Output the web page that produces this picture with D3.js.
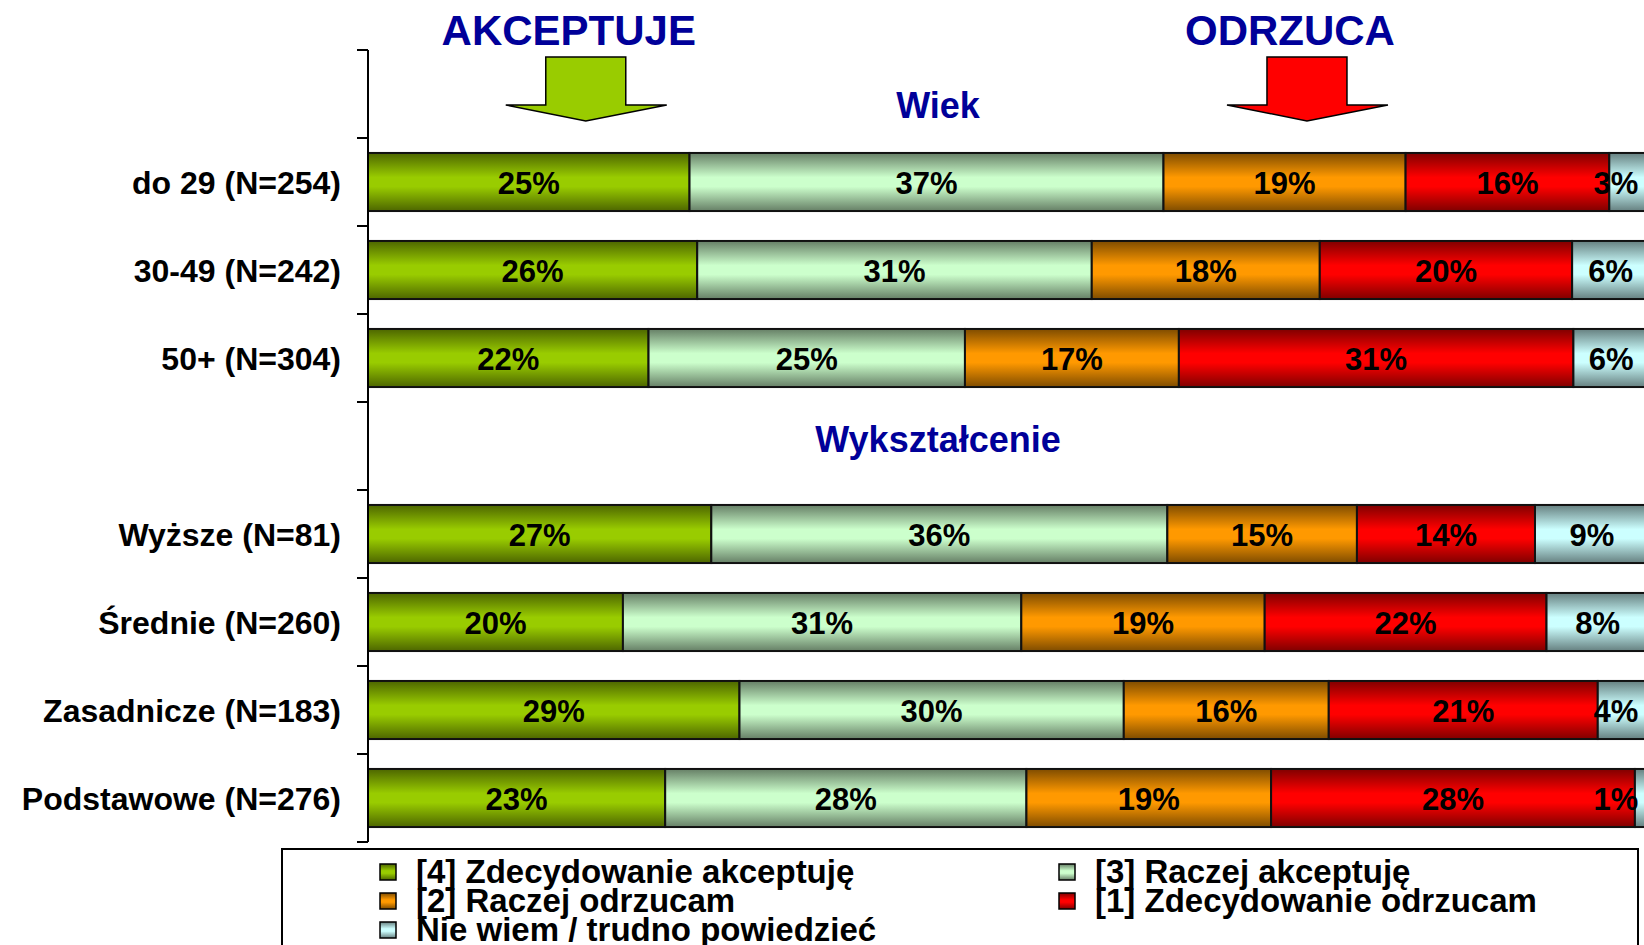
<!DOCTYPE html>
<html>
<head>
<meta charset="utf-8">
<script src="https://cdn.jsdelivr.net/npm/d3@7"></script>
<style>
  body { margin: 0; background: #fff; }
  svg { display: block; font-family: "Liberation Sans", Arial, sans-serif; font-weight: bold; }
</style>
</head>
<body>
<div id="chart"></div>
<script>
// rows of the chart (header slots hold the section titles)
const rowSlots = ["Wiek", "do 29 (N=254)", "30-49 (N=242)", "50+ (N=304)",
  "Wykształcenie", "Wyższe (N=81)", "Średnie (N=260)", "Zasadnicze (N=183)", "Podstawowe (N=276)"];
const headers = ["Wiek", "Wykształcenie"];
const categories = ["do 29 (N=254)", "30-49 (N=242)", "50+ (N=304)",
  "Wyższe (N=81)", "Średnie (N=260)", "Zasadnicze (N=183)", "Podstawowe (N=276)"];

// answer shares in %, one array per answer
const zdecAkcept = [25.1, 25.7, 21.9, 26.8, 19.9, 29.0, 23.2];
const raczejAkcept = [37.0, 30.8, 24.7, 35.6, 31.1, 30.0, 28.2];
const raczejOdrz = [18.9, 17.8, 16.7, 14.8, 19.0, 16.0, 19.1];
const zdecOdrz = [15.9, 19.7, 30.8, 13.9, 22.0, 21.0, 28.4];
const nieWiem = [3.1, 6.0, 5.9, 8.9, 8.0, 4.0, 1.1];

const seriesNames = ["[4] Zdecydowanie akceptuję", "[3] Raczej akceptuję",
  "[2] Raczej odrzucam", "[1] Zdecydowanie odrzucam", "Nie wiem / trudno powiedzieć"];
const seriesValues = [zdecAkcept, raczejAkcept, raczejOdrz, zdecOdrz, nieWiem];
const brightColors = ["#99cc00", "#ccffcc", "#ff9900", "#ff0000", "#ccffff"];
const darkColors = ["#4d6600", "#667f66", "#7f4c00", "#800000", "#668080"];

const W = 1644, H = 945;
const svg = d3.select("#chart").append("svg").attr("width", W).attr("height", H);

const x = d3.scaleLinear().domain([0, 100]).range([368, 1649]);
const y = d3.scaleBand().domain(rowSlots).range([50, 842]).paddingInner(0.34).paddingOuter(0.17);

// vertical gradients like the original bars
const defs = svg.append("defs");
brightColors.forEach((c, i) => {
  const g = defs.append("linearGradient").attr("id", "grad" + i)
    .attr("x1", 0).attr("y1", 0).attr("x2", 0).attr("y2", 1);
  g.append("stop").attr("offset", "0%").attr("stop-color", darkColors[i]);
  g.append("stop").attr("offset", "42%").attr("stop-color", c);
  g.append("stop").attr("offset", "58%").attr("stop-color", c);
  g.append("stop").attr("offset", "100%").attr("stop-color", darkColors[i]);
});

// stack
const table = categories.map((c, r) => {
  const o = { cat: c };
  seriesValues.forEach((arr, s) => o["s" + s] = arr[r]);
  return o;
});
const keys = seriesValues.map((d, i) => "s" + i);
const stacked = d3.stack().keys(keys)(table);

const layers = svg.append("g").selectAll("g").data(stacked).enter().append("g")
  .attr("fill", (d, i) => "url(#grad" + i + ")");

layers.selectAll("rect").data(d => d).enter().append("rect")
  .attr("x", d => x(d[0]))
  .attr("y", d => y(d.data.cat))
  .attr("width", d => x(d[1]) - x(d[0]))
  .attr("height", y.bandwidth())
  .attr("stroke", "#111")
  .attr("stroke-width", 2);

// value labels (kept inside the visible area on the right)
layers.selectAll("text").data(d => d).enter().append("text")
  .attr("x", d => Math.min((x(d[0]) + x(d[1])) / 2, 1616))
  .attr("y", d => y(d.data.cat) + y.bandwidth() / 2 + 12)
  .attr("text-anchor", "middle")
  .attr("font-size", 31)
  .attr("fill", "#000")
  .text(d => Math.round(d[1] - d[0]) + "%");

// category axis
const axis = svg.append("g").attr("transform", "translate(368,0)");
axis.append("line").attr("x1", 0).attr("x2", 0).attr("y1", 50).attr("y2", 842)
  .attr("stroke", "#000").attr("stroke-width", 2);
const tickYs = rowSlots.map(r => y(r) - y.step() * y.paddingInner() / 2).concat([842]);
axis.selectAll("line.tick").data(tickYs).enter().append("line").attr("class", "tick")
  .attr("x1", -11).attr("x2", 0).attr("y1", d => d).attr("y2", d => d)
  .attr("stroke", "#000").attr("stroke-width", 2);
axis.selectAll("text").data(categories).enter().append("text")
  .attr("x", -27)
  .attr("y", d => y(d) + y.bandwidth() / 2 + 12)
  .attr("text-anchor", "end")
  .attr("font-size", 32)
  .attr("fill", "#000")
  .text(d => d);

// section headers
svg.selectAll("text.header").data(headers).enter().append("text").attr("class", "header")
  .attr("x", 938)
  .attr("y", (d, i) => i === 0 ? 118 : 452)
  .attr("text-anchor", "middle")
  .attr("font-size", 36)
  .attr("fill", "#000099")
  .text(d => d);

// top annotations with arrows
const notes = [
  { text: "AKCEPTUJE", at: 17.0, color: "#99cc00" },
  { text: "ODRZUCA", at: 73.3, color: "#ff0000" }
];
notes.forEach(n => {
  const cx = x(n.at);
  svg.append("text").attr("x", cx - 17)
    .attr("y", 45).attr("text-anchor", "middle")
    .attr("font-size", 42).attr("fill", "#000099").text(n.text);
  const pts = [[cx - 40, 57], [cx + 40, 57], [cx + 40, 105], [cx + 81, 105],
    [cx, 121], [cx - 80, 105], [cx - 40, 105]];
  svg.append("polygon").attr("points", pts.map(p => p.join(",")).join(" "))
    .attr("fill", n.color).attr("stroke", "#000").attr("stroke-width", 1.5);
});

// legend
svg.append("rect").attr("x", 282).attr("y", 849).attr("width", 1356).attr("height", 120)
  .attr("fill", "#fff").attr("stroke", "#000").attr("stroke-width", 2);
const leg = svg.append("g").selectAll("g").data(seriesNames).enter().append("g")
  .attr("transform", (d, i) => `translate(${i % 2 === 0 ? 380 : 1059},${872 + Math.floor(i / 2) * 29})`);
leg.append("rect").attr("x", 0).attr("y", -8).attr("width", 16).attr("height", 16)
  .attr("fill", (d, i) => "url(#grad" + i + ")").attr("stroke", "#000").attr("stroke-width", 1.5);
leg.append("text").attr("x", 36).attr("y", 11).attr("font-size", 33).attr("fill", "#000")
  .text(d => d);
</script>
</body>
</html>
